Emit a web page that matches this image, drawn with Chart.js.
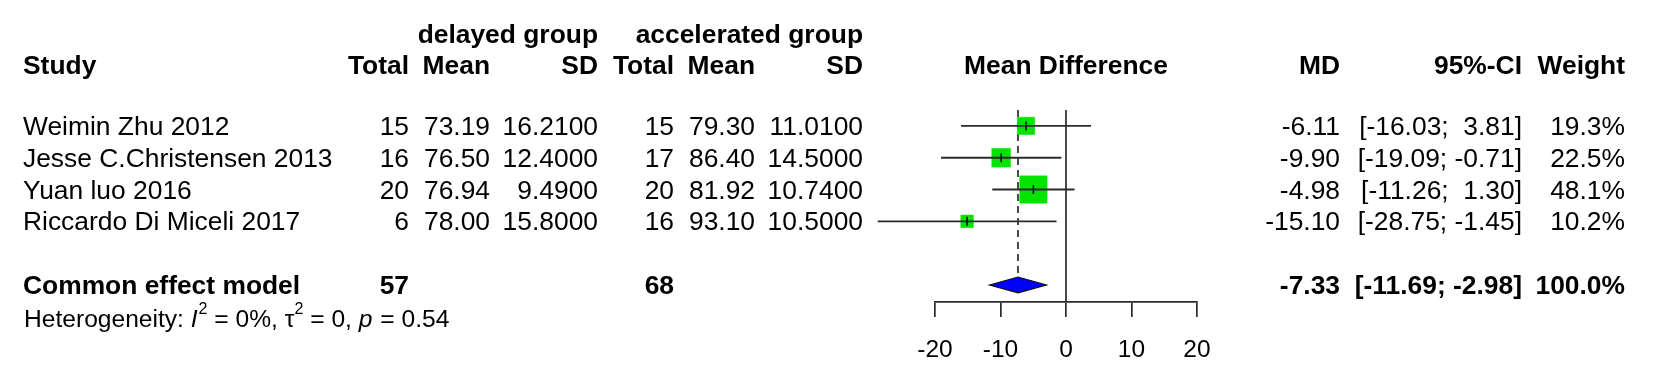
<!DOCTYPE html>
<html>
<head>
<meta charset="utf-8">
<script src="https://cdn.jsdelivr.net/npm/chart.js@4/dist/chart.umd.min.js"></script>
<style>
  body { margin: 0; background: #fff; }
  canvas { display: block; }
</style>
</head>
<body>
<canvas id="forest" width="1654" height="388"></canvas>
<script>
// study rows
const studies = ['Weimin Zhu 2012', 'Jesse C.Christensen 2013', 'Yuan luo 2016', 'Riccardo Di Miceli 2017'];
const delayedTotal = [15, 16, 20, 6];
const delayedMean = [73.19, 76.50, 76.94, 78.00];
const delayedSD = [16.21, 12.40, 9.49, 15.80];
const accelTotal = [15, 17, 20, 16];
const accelMean = [79.30, 86.40, 81.92, 93.10];
const accelSD = [11.01, 14.50, 10.74, 10.50];
const md = [-6.11, -9.90, -4.98, -15.10];
const ciLow = [-16.03, -19.09, -11.26, -28.75];
const ciHigh = [3.81, -0.71, 1.30, -1.45];
const weight = [19.3, 22.5, 48.1, 10.2];

// common effect model
const pooledLabel = 'Common effect model';
const pooledTotals = [57, 68];
const pooledMd = -7.33;
const pooledLow = -11.69;
const pooledHigh = -2.98;
const pooledWeight = 100.0;
const hetI2 = '0%';
const hetTau2 = '0';
const hetP = '0.54';

const xTicks = [-20, -10, 0, 10, 20];

const FONT = "'Liberation Sans', Arial, sans-serif";
const LINE = '#2b2b2b';
const GREEN = '#00e400';
const POOLED_ROW = 6;

function ciText(lo, hi) {
  return '[' + lo.toFixed(2).padStart(6) + '; ' + hi.toFixed(2).padStart(5) + ']';
}

const tableText = {
  id: 'tableText',
  afterDraw(chart) {
    const ctx = chart.ctx;
    const x = chart.scales.x;
    const y = chart.scales.y;
    // baseline of a text row sits 9px below the row centre
    const rowY = v => y.getPixelForValue(v) + 9;
    const put = (s, px, py, align, bold, size) => {
      ctx.font = (bold ? 'bold ' : '') + (size || 26.4) + 'px ' + FONT;
      ctx.textAlign = align;
      ctx.textBaseline = 'alphabetic';
      ctx.fillStyle = '#000';
      ctx.fillText(s, px, py);
    };
    ctx.save();
    const gy = rowY(-1.9);
    const hy = rowY(-0.9);
    put('delayed group', 598, gy, 'right', true);
    put('accelerated group', 863, gy, 'right', true);
    put('Study', 23, hy, 'left', true);
    put('Total', 409, hy, 'right', true);
    put('Mean', 490, hy, 'right', true);
    put('SD', 598, hy, 'right', true);
    put('Total', 674, hy, 'right', true);
    put('Mean', 755, hy, 'right', true);
    put('SD', 863, hy, 'right', true);
    put('Mean Difference', x.getPixelForValue(0), hy, 'center', true);
    put('MD', 1340, hy, 'right', true);
    put('95%-CI', 1522, hy, 'right', true);
    put('Weight', 1625, hy, 'right', true);

    studies.forEach((s, i) => {
      const py = rowY(i + 1);
      put(s, 23, py, 'left');
      put(String(delayedTotal[i]), 409, py, 'right');
      put(delayedMean[i].toFixed(2), 490, py, 'right');
      put(delayedSD[i].toFixed(4), 598, py, 'right');
      put(String(accelTotal[i]), 674, py, 'right');
      put(accelMean[i].toFixed(2), 755, py, 'right');
      put(accelSD[i].toFixed(4), 863, py, 'right');
      put(md[i].toFixed(2), 1340, py, 'right');
      put(ciText(ciLow[i], ciHigh[i]), 1522, py, 'right');
      put(weight[i].toFixed(1) + '%', 1625, py, 'right');
    });

    const py = rowY(POOLED_ROW);
    put(pooledLabel, 23, py, 'left', true);
    put(String(pooledTotals[0]), 409, py, 'right', true);
    put(String(pooledTotals[1]), 674, py, 'right', true);
    put(pooledMd.toFixed(2), 1340, py, 'right', true);
    put(ciText(pooledLow, pooledHigh), 1522, py, 'right', true);
    put(pooledWeight.toFixed(1) + '%', 1625, py, 'right', true);

    // heterogeneity line with italics and superscripts
    const ty = rowY(7.05);
    const parts = [
      ['Heterogeneity: ', ''], ['I', 'italic'], ['2', 'sup'], [' = ' + hetI2 + ', ', ''],
      ['\u03C4', ''], ['2', 'sup'], [' = ' + hetTau2 + ', ', ''], ['p', 'italic'], [' = ' + hetP, '']
    ];
    let cx = 24;
    ctx.textAlign = 'left';
    ctx.textBaseline = 'alphabetic';
    parts.forEach(([s, st]) => {
      let size = 24.6, dy = 0;
      if (st === 'sup') { size = 16; dy = -13; }
      ctx.font = (st === 'italic' ? 'italic ' : '') + size + 'px ' + FONT;
      ctx.fillText(s, cx, ty + dy);
      cx += ctx.measureText(s).width + (st === 'italic' ? 1 : 0);
    });
    ctx.restore();
  }
};

const diamond = {
  id: 'diamond',
  afterDatasetsDraw(chart) {
    const ctx = chart.ctx;
    const x = chart.scales.x;
    const y = chart.scales.y;
    ctx.save();
    ctx.beginPath();
    ctx.moveTo(x.getPixelForValue(pooledLow), y.getPixelForValue(POOLED_ROW));
    ctx.lineTo(x.getPixelForValue(pooledMd), y.getPixelForValue(POOLED_ROW - 0.25));
    ctx.lineTo(x.getPixelForValue(pooledHigh), y.getPixelForValue(POOLED_ROW));
    ctx.lineTo(x.getPixelForValue(pooledMd), y.getPixelForValue(POOLED_ROW + 0.25));
    ctx.closePath();
    ctx.fillStyle = '#0000ff';
    ctx.fill();
    ctx.lineWidth = 1.2;
    ctx.strokeStyle = '#111';
    ctx.stroke();
    ctx.restore();
  }
};

const ciLines = studies.map((s, i) => ({
  data: [{x: ciLow[i], y: i + 1}, {x: ciHigh[i], y: i + 1}],
  showLine: true, pointRadius: 0, borderColor: LINE, borderWidth: 1.9, clip: false, order: 2
}));

new Chart(document.getElementById('forest').getContext('2d'), {
  type: 'scatter',
  data: {
    datasets: [
      {
        // point estimate ticks
        data: md.map((v, i) => ({x: v, y: i + 1})),
        pointStyle: 'line', rotation: 90, pointRadius: 4.5,
        borderColor: '#111', borderWidth: 1.6, clip: false, order: 1
      },
      ...ciLines,
      {
        // weighted squares
        data: md.map((v, i) => ({x: v, y: i + 1})),
        pointStyle: 'rect',
        pointRadius: weight.map(w => 3.95 * Math.sqrt(w) / Math.SQRT2),
        backgroundColor: GREEN, borderColor: GREEN, borderWidth: 0.5,
        clip: false, order: 3
      },
      {
        // common effect reference
        data: [{x: pooledMd, y: 0.5}, {x: pooledMd, y: POOLED_ROW - 0.25}],
        showLine: true, pointRadius: 0, borderColor: LINE, borderWidth: 1.7,
        borderDash: [7, 5], clip: false, order: 4
      },
      {
        // line of no effect
        data: [{x: 0, y: 0.5}, {x: 0, y: 6.535}],
        showLine: true, pointRadius: 0, borderColor: LINE, borderWidth: 1.7,
        clip: false, order: 5
      }
    ]
  },
  options: {
    responsive: false,
    devicePixelRatio: 1,
    animation: false,
    events: [],
    layout: { padding: { left: 935, right: 457, top: 110, bottom: 0 } },
    plugins: { legend: { display: false }, tooltip: { enabled: false } },
    scales: {
      x: {
        type: 'linear',
        min: -20, max: 20,
        afterBuildTicks: s => { s.ticks = xTicks.map(v => ({value: v})); },
        afterFit: s => { s.height = 86; },
        ticks: { color: '#000', font: { family: FONT, size: 24.5 }, padding: 19, maxRotation: 0 },
        grid: { drawOnChartArea: false, drawTicks: true, tickLength: 15, color: LINE, lineWidth: 1.7 },
        border: { display: true, color: LINE, width: 1.7 }
      },
      y: {
        type: 'linear',
        display: false,
        reverse: true,
        min: 0.5, max: 6.535
      }
    }
  },
  plugins: [diamond, tableText]
});
</script>
</body>
</html>
